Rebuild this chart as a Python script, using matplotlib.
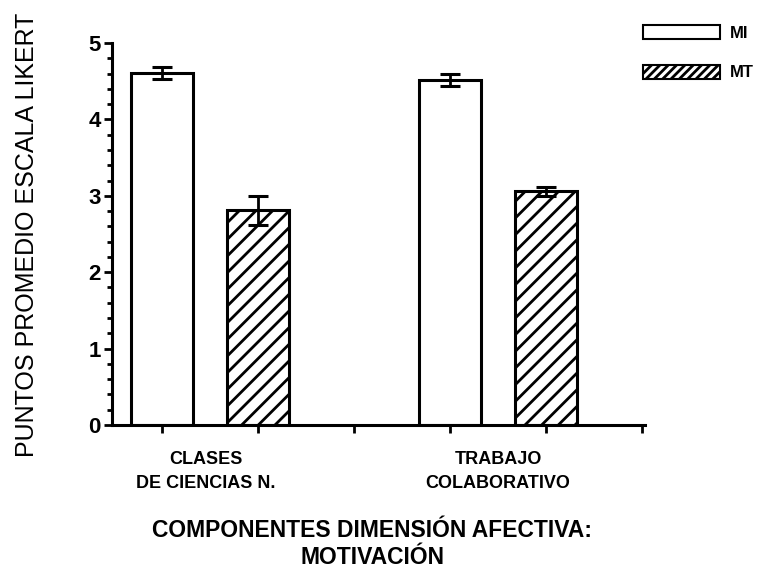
import matplotlib
matplotlib.use("Agg")
import matplotlib.pyplot as plt
from matplotlib.ticker import MultipleLocator
from matplotlib.patches import Patch

plt.rcParams['font.family'] = ['Liberation Sans', 'DejaVu Sans']
plt.rcParams['hatch.linewidth'] = 2.0

# Data
categories = ["CLASES\nDE CIENCIAS N.", "TRABAJO\nCOLABORATIVO"]
series = ["MI", "MT"]
mi_values = [4.61, 4.52]
mi_errors = [0.08, 0.08]
mt_values = [2.81, 3.06]
mt_errors = [0.19, 0.06]
y_ticks = [0, 1, 2, 3, 4, 5]

fig = plt.figure(figsize=(7.64, 5.81), dpi=100)
ax = fig.add_axes([112/764, 156/581, 533/764, 382/581])

mi_x = [0, 3]
mt_x = [1, 4]
bw = 0.64
ax.bar(mi_x, mi_values, width=bw, color='white', edgecolor='black', linewidth=2.2, zorder=2)
ax.bar(mt_x, mt_values, width=bw, color='white', edgecolor='black', linewidth=2.2,
       hatch='//', zorder=2)
ax.errorbar(mi_x, mi_values, yerr=mi_errors, fmt='none', ecolor='black',
            elinewidth=2.0, capsize=7, capthick=2.2, zorder=3)
ax.errorbar(mt_x, mt_values, yerr=mt_errors, fmt='none', ecolor='black',
            elinewidth=2.0, capsize=7, capthick=2.2, zorder=3)

ax.set_xlim(-0.52, 5.03)
ax.set_ylim(0, 5)
ax.spines['top'].set_visible(False)
ax.spines['right'].set_visible(False)
ax.spines['left'].set_linewidth(2.2)
ax.spines['bottom'].set_linewidth(2.2)

ax.set_yticks(y_ticks)
ax.set_yticklabels([str(t) for t in y_ticks], fontsize=16, fontweight='bold')
ax.yaxis.set_minor_locator(MultipleLocator(0.2))
ax.tick_params(axis='y', which='major', direction='out', length=6, width=2, pad=2)
ax.tick_params(axis='y', which='minor', direction='out', length=3.5, width=2)

ax.set_xticks([0, 1, 2, 3, 4, 5])
ax.set_xticklabels([])
ax.tick_params(axis='x', which='major', direction='out', length=6, width=2)

group_centers = [0.46, 3.5]
for xc, lab in zip(group_centers, categories):
    ax.text(xc, -0.068, lab, transform=ax.get_xaxis_transform(), ha='center', va='top',
            fontsize=13, fontweight='bold', linespacing=1.55)

fig.text(372/764, 1 - 544/581, "COMPONENTES DIMENSIÓN AFECTIVA:\nMOTIVACIÓN",
         ha='center', va='center', fontsize=16.5, fontweight='bold', linespacing=1.2)

fig.text(27/764, 1 - 235/581, "PUNTOS PROMEDIO ESCALA LIKERT", rotation=90,
         ha='center', va='center', fontsize=18)

handles = [Patch(facecolor='white', edgecolor='black', linewidth=1.5, label=series[0]),
           Patch(facecolor='white', edgecolor='black', linewidth=1.5, hatch='////', label=series[1])]
fig.legend(handles=handles, loc='upper left', bbox_to_anchor=(643/764, 1 - 25/581),
           frameon=False, prop={'size': 12, 'weight': 'bold'}, handlelength=4.6,
           handleheight=0.9, handletextpad=0.6, labelspacing=1.45, borderpad=0,
           borderaxespad=0)

fig.savefig("out.png", dpi=100)
